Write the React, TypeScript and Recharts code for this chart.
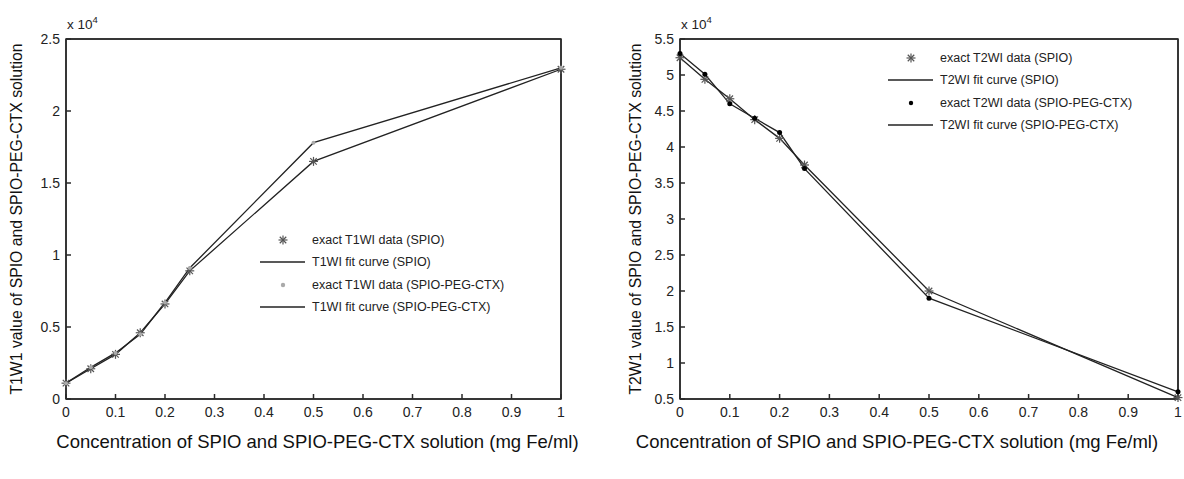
import React from 'react';
import { LineChart, Line, XAxis, YAxis, Legend, ReferenceArea } from 'recharts';

// concentrations (mg Fe/ml)
const conc = [0, 0.05, 0.1, 0.15, 0.2, 0.25, 0.5, 1];

// T1WI signal
const t1Spio = [1100, 2100, 3100, 4600, 6600, 8900, 16500, 22900];
const t1Peg = [1100, 2200, 3200, 4500, 6700, 9100, 17800, 23000];

// T2WI signal
const t2Spio = [52400, 49400, 46700, 43800, 41200, 37500, 20000, 5200];
const t2Peg = [53000, 50100, 46000, 44000, 42000, 37000, 19000, 6000];

const xTicks = [0, 0.1, 0.2, 0.3, 0.4, 0.5, 0.6, 0.7, 0.8, 0.9, 1];
const t1Ticks = [0, 5000, 10000, 15000, 20000, 25000];
const t2Ticks = [5000, 10000, 15000, 20000, 25000, 30000, 35000, 40000, 45000, 50000, 55000];

const toPoints = (ys: number[]) => conc.map((x, i) => ({ x, y: ys[i] }));

const FONT = '"Liberation Sans", Arial, sans-serif';
const AXIS = '#2a2a2a';

const Star = (props: any) => {
  const { cx, cy } = props;
  if (cx == null || cy == null) return null;
  const r = 4.5;
  const d = r * 0.72;
  return (
    <g stroke="#555" strokeWidth={1.2}>
      <line x1={cx - r} y1={cy} x2={cx + r} y2={cy} />
      <line x1={cx} y1={cy - r} x2={cx} y2={cy + r} />
      <line x1={cx - d} y1={cy - d} x2={cx + d} y2={cy + d} />
      <line x1={cx - d} y1={cy + d} x2={cx + d} y2={cy - d} />
    </g>
  );
};

const makeDot = (fill: string, r: number) => (props: any) => {
  const { cx, cy } = props;
  if (cx == null || cy == null) return null;
  return <circle cx={cx} cy={cy} r={r} fill={fill} stroke="none" />;
};

const LegendBox = ({ items }: { items: { label: string; kind: string; color: string }[] }) => (
  <div style={{ fontFamily: FONT, fontSize: 12.5, color: '#222' }}>
    {items.map((it) => (
      <div key={it.label} style={{ display: 'flex', alignItems: 'center', height: 22.3 }}>
        <svg width={46} height={12} style={{ marginRight: 6 }}>
          {it.kind === 'line' && <line x1={0} y1={6} x2={45} y2={6} stroke={it.color} strokeWidth={1.3} />}
          {it.kind === 'star' && <Star cx={23} cy={6} />}
          {it.kind === 'dot' && <circle cx={23} cy={6} r={2.2} fill={it.color} />}
        </svg>
        <span>{it.label}</span>
      </div>
    ))}
  </div>
);

const tickStyle = { fill: '#222', fontSize: 14, fontFamily: FONT };

interface PanelProps {
  spio: number[];
  peg: number[];
  yDomain: [number, number];
  yTicks: number[];
  pegDotColor: string;
  pegDotR: number;
  tag: string;
  legendPos: { left: number; top: number };
  yLabel: string;
  width: number;
  yAxisWidth: number;
  rightMargin: number;
  titleShift: number;
  yLabelOffset: number;
}

const Panel = ({ spio, peg, yDomain, yTicks, pegDotColor, pegDotR, tag, legendPos, yLabel, width, yAxisWidth, rightMargin, titleShift, yLabelOffset }: PanelProps) => {
  const items = [
    { label: `exact ${tag} data (SPIO)`, kind: 'star', color: '#555' },
    { label: `${tag} fit curve (SPIO)`, kind: 'line', color: '#222' },
    { label: `exact ${tag} data (SPIO-PEG-CTX)`, kind: 'dot', color: pegDotColor },
    { label: `${tag} fit curve (SPIO-PEG-CTX)`, kind: 'line', color: '#222' },
  ];
  return (
    <div style={{ position: 'relative', width, height: 479 }}>
      <LineChart width={width} height={479} margin={{ top: 38, right: rightMargin, left: 0, bottom: 0 }}>
        <XAxis
          xAxisId="b"
          dataKey="x"
          type="number"
          domain={[0, 1]}
          ticks={xTicks}
          tickFormatter={(v: number) => String(Number(v.toFixed(1)))}
          height={80}
          stroke={AXIS}
          strokeWidth={1.5}
          tickSize={-5}
          tickMargin={13}
          tick={tickStyle}
          allowDuplicatedCategory={false}
          label={{ value: 'Concentration of SPIO and SPIO-PEG-CTX solution (mg Fe/ml)', position: 'insideTop', offset: 36, dx: titleShift, style: { fill: '#111', fontSize: 18.5, fontFamily: FONT } }}
        />
        <XAxis xAxisId="t" orientation="top" dataKey="x" type="number" domain={[0, 1]} ticks={xTicks} height={1} stroke={AXIS} strokeWidth={1.5} tickSize={-5} tick={false} />
        <YAxis
          yAxisId="l"
          type="number"
          domain={yDomain}
          ticks={yTicks}
          tickFormatter={(v: number) => String(v / 10000)}
          width={yAxisWidth}
          stroke={AXIS}
          strokeWidth={1.5}
          tickSize={-5}
          tickMargin={11}
          tick={tickStyle}
          label={{ value: yLabel, angle: -90, position: 'insideLeft', offset: yLabelOffset, style: { fill: '#111', fontSize: 15.8, fontFamily: FONT, textAnchor: 'middle' } }}
        />
        <YAxis yAxisId="r" orientation="right" type="number" domain={yDomain} ticks={yTicks} width={1} stroke={AXIS} strokeWidth={1.5} tickSize={-5} tick={false} />
        <ReferenceArea xAxisId="b" yAxisId="l" x1={0} x2={1} y1={yDomain[0]} y2={yDomain[1]} fill="none" stroke={AXIS} strokeWidth={1.5} fillOpacity={0} ifOverflow="visible" />
        <Line xAxisId="b" yAxisId="l" data={toPoints(spio)} dataKey="y" name={items[1].label} stroke="#222" strokeWidth={1.3} dot={false} isAnimationActive={false} />
        <Line xAxisId="b" yAxisId="l" data={toPoints(peg)} dataKey="y" name={items[3].label} stroke="#222" strokeWidth={1.3} dot={false} isAnimationActive={false} />
        <Line xAxisId="b" yAxisId="l" data={toPoints(spio)} dataKey="y" name={items[0].label} stroke="none" dot={<Star />} activeDot={false} isAnimationActive={false} />
        <Line xAxisId="b" yAxisId="l" data={toPoints(peg)} dataKey="y" name={items[2].label} stroke="none" dot={makeDot(pegDotColor, pegDotR)} activeDot={false} isAnimationActive={false} />
        <Legend
          layout="horizontal"
          verticalAlign="middle"
          content={() => <LegendBox items={items} />}
          wrapperStyle={{ position: 'absolute', left: legendPos.left, top: legendPos.top, width: 'auto' }}
        />
      </LineChart>
      <div style={{ position: 'absolute', left: yAxisWidth + 1, top: 14, fontFamily: FONT, fontSize: 13.5, color: '#222' }}>
        x 10<sup style={{ fontSize: 9.5 }}>4</sup>
      </div>
    </div>
  );
};

export default function App() {
  return (
    <div style={{ position: 'absolute', left: 0, top: 0, width: 1184, height: 479, background: '#fff', display: 'flex' }}>
      <Panel
        spio={t1Spio}
        peg={t1Peg}
        yDomain={[0, 25000]}
        yTicks={t1Ticks}
        pegDotColor="#aaa"
        pegDotR={2}
        tag="T1WI"
        legendPos={{ left: 260, top: 229 }}
        yLabel="T1W1 value of SPIO and SPIO-PEG-CTX solution"
        width={600}
        yAxisWidth={66}
        rightMargin={38}
        titleShift={4}
        yLabelOffset={16}
      />
      <Panel
        spio={t2Spio}
        peg={t2Peg}
        yDomain={[5000, 55000]}
        yTicks={t2Ticks}
        pegDotColor="#000"
        pegDotR={2.5}
        tag="T2WI"
        legendPos={{ left: 288, top: 47 }}
        yLabel="T2W1 value of SPIO and SPIO-PEG-CTX solution"
        width={584}
        yAxisWidth={80}
        rightMargin={5}
        titleShift={-32}
        yLabelOffset={35}
      />
    </div>
  );
}
